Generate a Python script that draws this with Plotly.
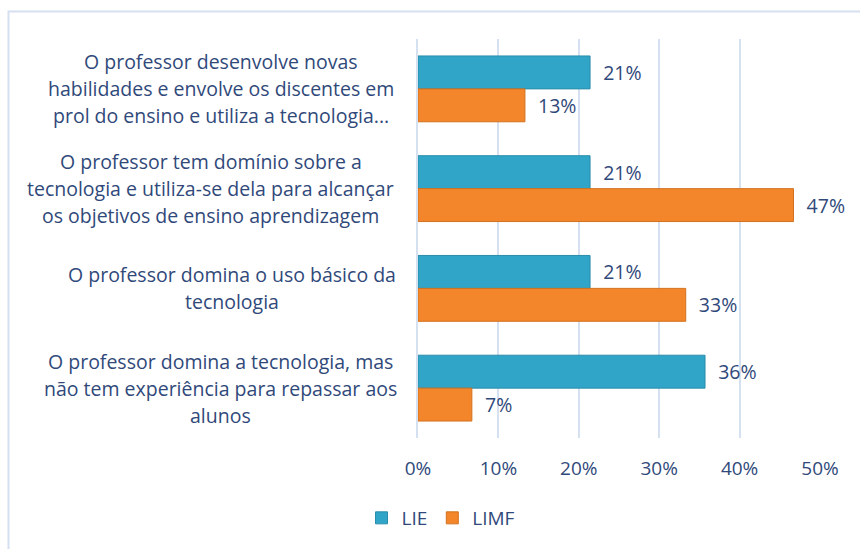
import plotly.graph_objects as go

categories = [
    "O professor desenvolve novas\nhabilidades e envolve os discentes em\nprol do ensino e utiliza a tecnologia...",
    "O professor tem domínio sobre a\ntecnologia e utiliza-se dela para alcançar\nos objetivos de ensino aprendizagem",
    "O professor domina o uso básico da\ntecnologia",
    "O professor domina a tecnologia, mas\nnão tem experiência para repassar aos\nalunos",
]
series_names = ["LIE", "LIMF"]
lie_values = [0.214, 0.214, 0.214, 0.357]
limf_values = [0.133, 0.467, 0.333, 0.067]
x_ticks = [0, 0.1, 0.2, 0.3, 0.4, 0.5]

TEXT = "#30497A"
FONT = "'Open Sans', Lato, sans-serif"
colors = ["#30A5C7", "#F3862A"]
lines_colors = ["#2A8DAB", "#D2711F"]

fig = go.Figure()
for name, vals, c, lc in zip(series_names, [lie_values, limf_values], colors, lines_colors):
    fig.add_trace(go.Bar(
        name=name, y=categories, x=vals, orientation="h",
        marker=dict(color=c, line=dict(color=lc, width=1)),
        texttemplate="\u00a0\u00a0%{x:.0%}", textposition="outside",
        textfont=dict(family=FONT, size=19.5, color=TEXT),
        cliponaxis=False,
    ))

# plot area in pixels: x 418..820, y 39..438
L, R, T, B = 418, 820, 39, 438
W, H = R - L, B - T

annotations = []
label_centers_px = [221, 211, 232, 220]  # horizontal centre of each label block
for cat, cpx in zip(categories, label_centers_px):
    lines = cat.split("\n")
    n = len(lines)
    for i, ln in enumerate(lines):
        annotations.append(dict(
            xref="paper", yref="y", x=(cpx - L) / W, y=cat,
            text=ln, showarrow=False, xanchor="center", yanchor="middle",
            yshift=((n - 1) / 2 - i) * 27,
            font=dict(family=FONT, size=19.5, color=TEXT),
        ))

shapes = [dict(
    type="rect", xref="paper", yref="paper",
    x0=(8.5 - L) / W, x1=1.3, y0=-0.6, y1=(B - 11.5) / H,
    line=dict(color="#D5E0F0", width=2), fillcolor="rgba(0,0,0,0)", layer="below",
)]

fig.update_layout(
    width=860, height=549,
    margin=dict(l=L, r=860 - R, t=T, b=549 - B, autoexpand=False),
    paper_bgcolor="white", plot_bgcolor="white",
    barmode="group", bargap=0.34, bargroupgap=0,
    font=dict(family=FONT, size=18, color=TEXT),
    annotations=annotations, shapes=shapes,
    legend=dict(orientation="h", x=(441 - L) / W, xanchor="center",
                y=(B - 518) / H, yanchor="middle",
                font=dict(family=FONT, size=19, color=TEXT),
                itemwidth=30, traceorder="normal"),
    xaxis=dict(range=[0, 0.5], tickvals=x_ticks, tickformat=".0%",
               showgrid=True, gridcolor="#D5E0F0", gridwidth=2,
               zeroline=False, showline=False, ticks="",
               ticklabelstandoff=17,
               tickfont=dict(family=FONT, size=19, color=TEXT)),
    yaxis=dict(autorange="reversed", showticklabels=False, ticks="",
               showgrid=False, zeroline=False,
               showline=True, linecolor="#D5E0F0", linewidth=2),
    showlegend=True,
)

fig.write_html("out.html", config={"displayModeBar": False},
               post_script="document.body.style.margin='0';")
